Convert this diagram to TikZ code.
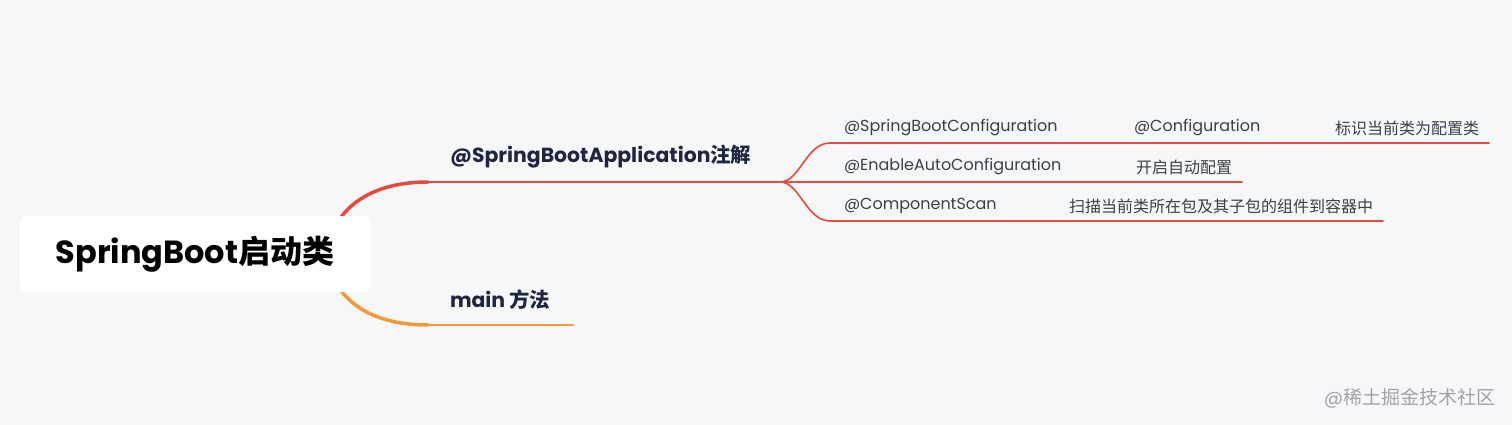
\documentclass[tikz,border=0pt]{standalone}
\usepackage{fontspec}
\setmainfont{Poppins}
\newfontfamily\cjk{Noto Sans CJK SC}
\usetikzlibrary{positioning, backgrounds}
\definecolor{mmbg}{HTML}{F6F7F9}
\definecolor{mmred}{HTML}{E9483F}
\definecolor{mmorange}{HTML}{F29A38}
\definecolor{mmtext}{HTML}{1E2640}
\definecolor{mmgray}{HTML}{3A3F4B}
\definecolor{mmmark}{HTML}{A0A2A8}

\begin{document}
\begin{tikzpicture}[
  x=1pt, y=-1pt,
  every node/.style={inner sep=0pt, outer sep=0pt},
  rootbox/.style={rectangle, rounded corners=6pt, fill=white, minimum width=350pt, minimum height=76pt, font=\fontsize{32}{34}\selectfont\bfseries, text=black},
  branch/.style={anchor=west, font=\fontsize{20.4}{22}\selectfont\bfseries, text=mmtext},
  leaf/.style={anchor=west, font=\fontsize{16}{18}\selectfont, text=mmgray},
  trunk/.style={line width=3.5pt, line cap=round},
  limb/.style={line width=2pt, line cap=round},
  twig/.style={line width=1.6pt, mmred, line cap=round},
]
\useasboundingbox (0,0) rectangle (1512,425);

% Root
\node[rootbox] (root) at (195,254) {SpringBoot{\cjk 启动类}};

% Branches
\node[branch] (app) at (450,157) {@SpringBootApplication{\cjk 注解}};
\node[branch] (main) at (450,300) {main {\cjk 方法}};
\coordinate (appL) at (428,182);
\coordinate (appR) at (780,182);
\coordinate (mainL) at (428,325);
\coordinate (mainR) at (573,325);

% Leaves
\node[leaf] (sbc) at (844,128) {@SpringBootConfiguration};
\node[leaf] (cfg) at (1134,128) {@Configuration};
\node[leaf] (cfgtxt) at (1335,128) {\cjk 标识当前类为配置类};
\node[leaf] (eac) at (844,167) {@EnableAutoConfiguration};
\node[leaf] (eactxt) at (1136,167) {\cjk 开启自动配置};
\node[leaf] (cs) at (844,206) {@ComponentScan};
\node[leaf] (cstxt) at (1069,206) {\cjk 扫描当前类所在包及其子包的组件到容器中};
\coordinate (sbcL) at (830,143);
\coordinate (sbcR) at (1115,143);
\coordinate (cfgR) at (1318,143);
\coordinate (cfgtxtR) at (1489,143);
\coordinate (eacL) at (830,182);
\coordinate (eacR) at (1118,182);
\coordinate (eactxtR) at (1242,182);
\coordinate (csL) at (830,221);
\coordinate (csR) at (1050,221);
\coordinate (cstxtR) at (1383,221);

% Watermark
\node[anchor=east, font=\fontsize{19}{20}\selectfont, text=mmmark] (mark) at (1495,398) {@{\cjk 稀土掘金技术社区}};

\begin{scope}[on background layer]
\fill[mmbg] (0,0) rectangle (1512,425);
\draw[trunk, mmred] (root.center) ++(130,0) .. controls (336,200) and (380,182) .. (appL);
\draw[trunk, mmorange] (root.center) ++(130,0) .. controls (336,308) and (380,325) .. (mainL);
\end{scope}
\draw[limb, mmred] (appL) -- (appR);
\draw[limb, mmorange] (mainL) -- (mainR);

% Sub branches
\draw[twig] (appR) .. controls (800,182) and (806,143) .. (sbcL) -- (sbcR) -- (cfgR) -- (cfgtxtR);
\draw[twig] (appR) -- (eacL) -- (eacR) -- (eactxtR);
\draw[twig] (appR) .. controls (800,182) and (806,221) .. (csL) -- (csR) -- (cstxtR);

\end{tikzpicture}
\end{document}
